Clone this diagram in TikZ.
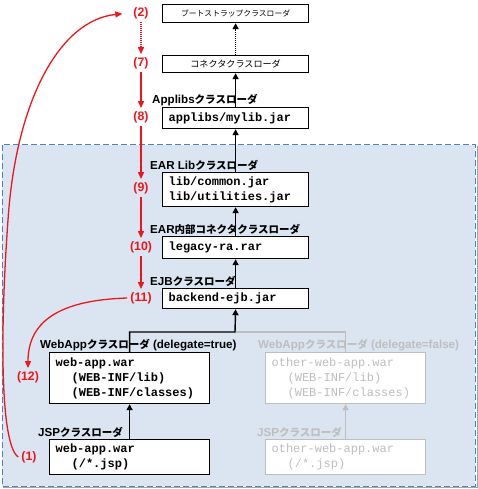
\documentclass[tikz,border=0pt]{standalone}
\usepackage{fontspec}
\setmainfont{Liberation Sans}
\setmonofont{Liberation Mono}
\newfontfamily\jpfont{Noto Sans CJK JP}
\usepackage{xcolor}
\usetikzlibrary{arrows.meta, positioning}

\definecolor{earfill}{RGB}{219,229,241}
\definecolor{eardash}{RGB}{79,129,189}
\definecolor{stepred}{RGB}{238,22,28}
\definecolor{fadegrey}{RGB}{190,190,190}

\newcommand{\jpl}[1]{{\fontsize{10.5}{12}\selectfont\jpfont #1}}

\begin{document}
\begin{tikzpicture}[x=1pt, y=-1pt,
    ldrbox/.style={draw, line width=1.2pt, fill=white, anchor=north west, inner xsep=6pt, inner ysep=0pt,
      text width=134pt, align=left, font=\fontsize{12}{15}\selectfont\ttfamily\bfseries},
    jpbox/.style={ldrbox, align=center, font=\fontsize{9.1}{11}\selectfont\jpfont},
    webbox/.style={ldrbox, text width=148pt},
    fadebox/.style={webbox, draw=fadegrey, text=fadegrey, font=\fontsize{12}{15}\selectfont\ttfamily},
    ldrlabel/.style={inner sep=0pt, font=\fontsize{11.6}{13}\selectfont\bfseries},
    fadelabel/.style={ldrlabel, text=fadegrey},
    steptag/.style={inner sep=3pt, text=stepred, font=\fontsize{12.3}{14}\selectfont\bfseries},
    uparrow/.style={-{Triangle[length=6pt, width=6pt]}, line width=1.4pt},
    fadearrow/.style={uparrow, draw=fadegrey},
    redarrow/.style={-{Triangle[length=7pt, width=6pt]}, line width=1.3pt, draw=stepred},
    dotline/.style={dash pattern=on 1.2pt off 0.8pt}
]
\useasboundingbox (0,0) rectangle (478,489);

% EAR area
\draw[gray!70, line width=0.8pt] (3,487.5) -| (477.2,146);
\draw[fill=earfill, draw=eardash, line width=1pt, dash pattern=on 6pt off 3pt] (2,145) rectangle (475,486);

% Loader boxes
\node[jpbox, minimum height=18pt, font=\fontsize{7.8}{10}\selectfont\jpfont] (boot) at (162,4) {ブートストラップクラスローダ};
\node[jpbox, minimum height=17pt] (conn) at (162,55) {コネクタクラスローダ};
\node[ldrbox, minimum height=21pt] (applibs) at (162,107) {applibs/mylib.jar};
\node[ldrbox, minimum height=34pt] (earlib) at (162,172) {lib/common.jar\\lib/utilities.jar};
\node[ldrbox, minimum height=22pt] (rar) at (162,236) {legacy-ra.rar};
\node[ldrbox, minimum height=20pt] (ejb) at (162,288) {backend-ejb.jar};
\node[webbox, minimum height=51pt] (web) at (49,352) {web-app.war\\\hspace*{16pt}(WEB-INF/lib)\\\hspace*{16pt}(WEB-INF/classes)};
\node[webbox, minimum height=35pt] (jsp) at (49,439) {web-app.war\\\hspace*{16pt}(/*.jsp)};
\node[fadebox, minimum height=51pt] (oweb) at (265,352) {other-web-app.war\\\hspace*{16pt}(WEB-INF/lib)\\\hspace*{16pt}(WEB-INF/classes)};
\node[fadebox, minimum height=35pt] (ojsp) at (265,439) {other-web-app.war\\\hspace*{16pt}(/*.jsp)};

% Loader labels
\node[ldrlabel, above right=1pt and -10pt of applibs.north west] (applibslbl) {Applibs\jpl{クラスローダ}};
\node[ldrlabel, above right=1pt and -12pt of earlib.north west] (earliblbl) {EAR Lib\jpl{クラスローダ}};
\node[ldrlabel, above right=1pt and -12pt of rar.north west] (rarlbl) {EAR\jpl{内部コネクタクラスローダ}};
\node[ldrlabel, above right=1pt and -12pt of ejb.north west] (ejblbl) {EJB\jpl{クラスローダ}};
\node[ldrlabel, above right=1pt and -9pt of web.north west] (weblbl) {WebApp\jpl{クラスローダ} (delegate=true)};
\node[ldrlabel, above right=1pt and -11pt of jsp.north west] (jsplbl) {JSP\jpl{クラスローダ}};
\node[fadelabel, above right=1pt and -7pt of oweb.north west] (oweblbl) {WebApp\jpl{クラスローダ} (delegate=false)};
\node[fadelabel, above right=1pt and -8pt of ojsp.north west] (ojsplbl) {JSP\jpl{クラスローダ}};

% Delegation arrows
\coordinate (wjoin) at (235,332);
\draw[fadearrow, -] (oweb.north) |- (wjoin);
\draw[fadearrow] (ojsp) -- (oweb);
\draw[uparrow, dotline] (conn) -- (boot);
\draw[uparrow] (applibs) -- (conn);
\draw[uparrow] (earlib) -- (applibs);
\draw[uparrow] (rar) -- (earlib);
\draw[uparrow] (ejb) -- (rar);
\draw[uparrow] (web.north) |- (wjoin) -- (ejb.south);
\draw[uparrow] (jsp) -- (web);

% Search order
\node[steptag] (r2) at (141,13) {(2)};
\node[steptag] (r7) at (141,63) {(7)};
\node[steptag] (r8) at (141,117) {(8)};
\node[steptag] (r9) at (141,188) {(9)};
\node[steptag] (r10) at (141,247) {(10)};
\node[steptag] (r11) at (141,298) {(11)};
\node[steptag] (r12) at (28,377) {(12)};
\node[steptag] (r1) at (29,457) {(1)};

\draw[redarrow, dotline] (r2) -- (r7);
\draw[redarrow] (r7) -- (r8);
\draw[redarrow] (r8) -- (r9);
\draw[redarrow] (r9) -- (r10);
\draw[redarrow] (r10) -- (r11);
\draw[redarrow] (r11.west) .. controls (65,300) and (28,318) .. (r12.north);
\draw[redarrow, shorten >=8pt] (r1.west) .. controls (0,445) and (0,330) .. (8,220) .. controls (16,100) and (60,20) .. (r2.west);

\end{tikzpicture}
\end{document}
